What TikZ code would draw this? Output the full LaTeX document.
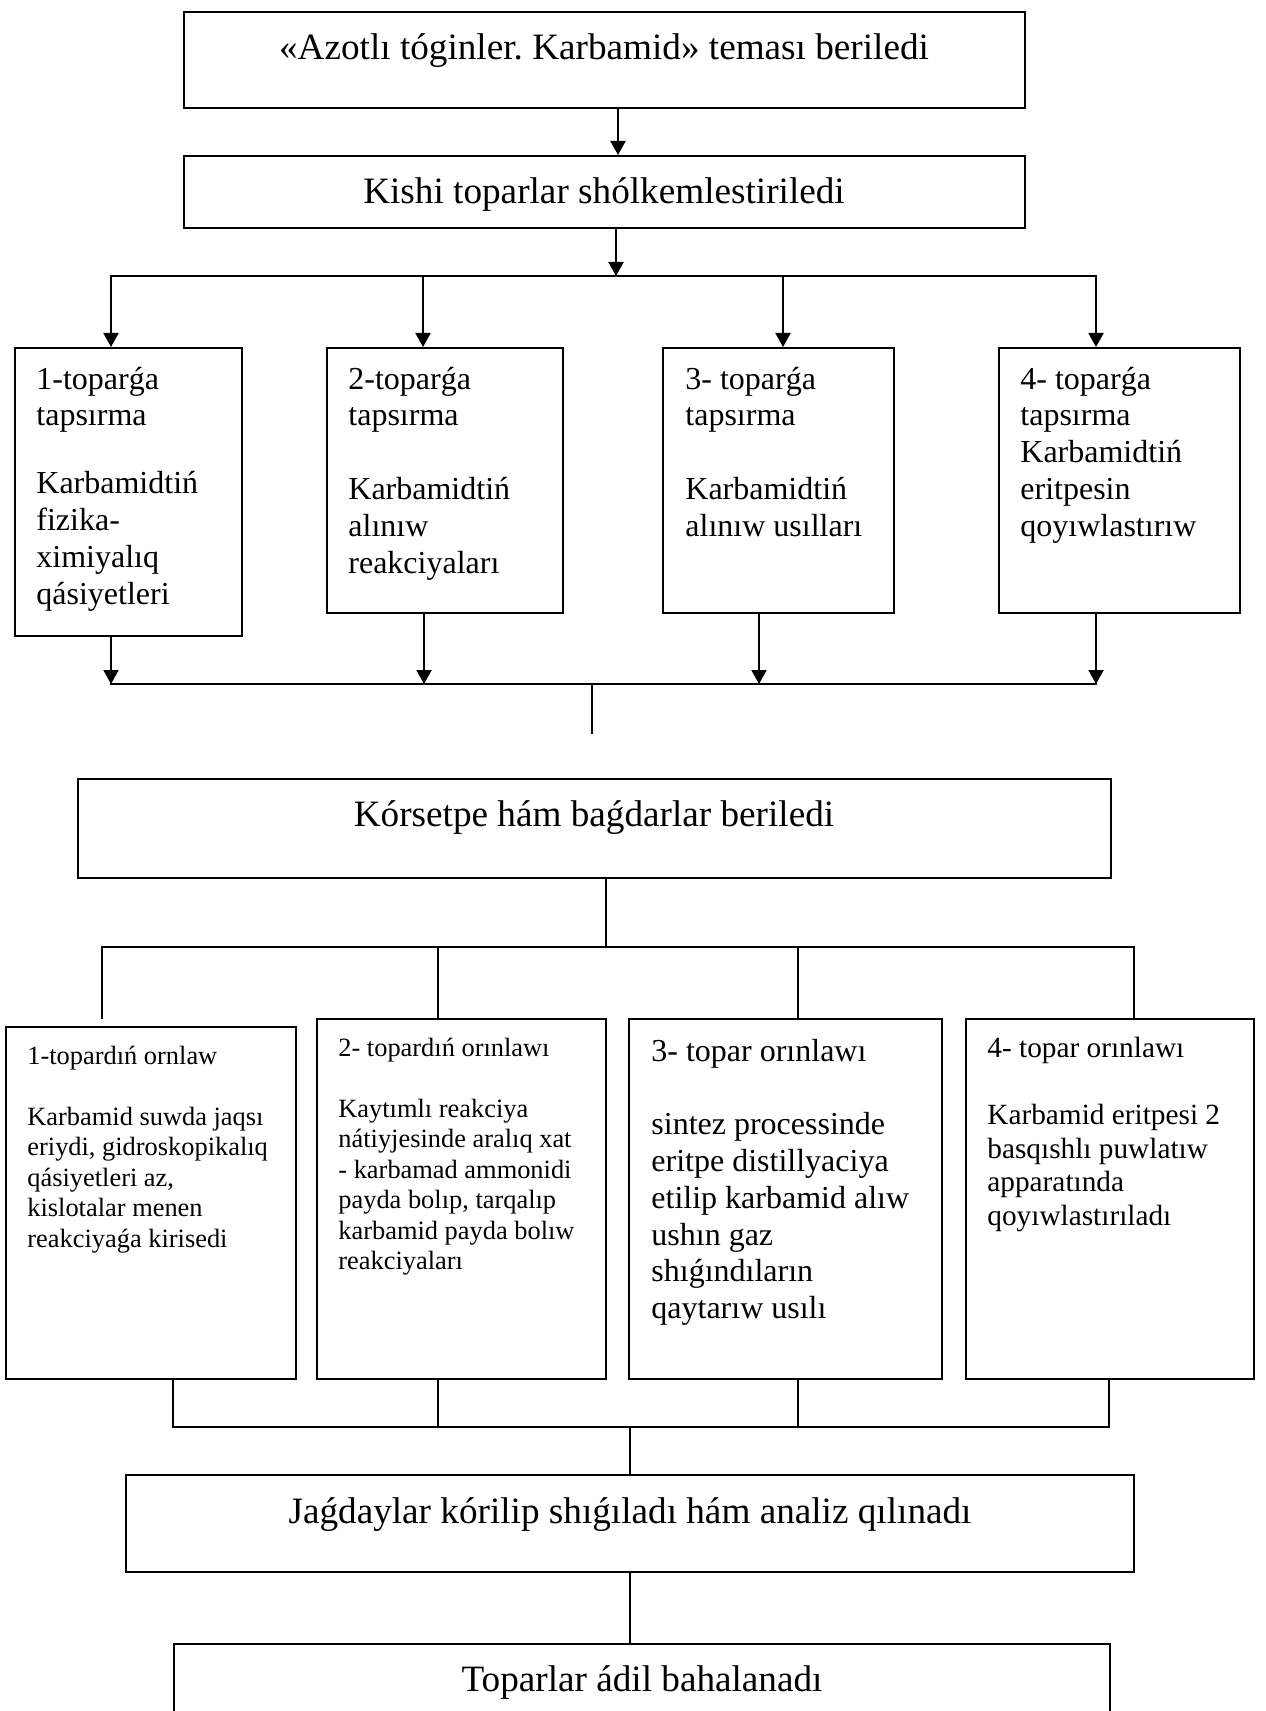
\documentclass[tikz,border=0pt]{standalone}
\usepackage{fontspec}
\setmainfont{Liberation Serif}
\usetikzlibrary{arrows.meta,fit}
\frenchspacing
\begin{document}
\begin{tikzpicture}[x=0.5pt,y=-0.5pt,
  box/.style={draw, line width=1pt, inner sep=0pt, rectangle},
  head/.style={font=\fontsize{18.6pt}{21pt}\selectfont, inner sep=0pt, anchor=base},
  txt/.style={align=left, inner sep=0pt, anchor=north west},
  task/.style={txt, font=\fontsize{16pt}{18.4pt}\selectfont},
  arr/.style={line width=1pt, -{Triangle[length=7pt,width=7.5pt]}},
  ln/.style={line width=1pt, line cap=rect},
  thin/.style={line width=0.75pt, line cap=rect}]

\fill[white] (0,0) rectangle (1265,1711);
\useasboundingbox (0,0) rectangle (1265,1711);
\clip (0,0) rectangle (1265,1711);

% ---------- boxes ----------
\node[box, fit={(184,12)(1025,108)}] (theme) {};
\node[box, fit={(184,156)(1025,228)}] (groups) {};
\node[box, fit={(15,348)(242,636)}] (task1) {};
\node[box, fit={(327,348)(563,613)}] (task2) {};
\node[box, fit={(663,348)(894,613)}] (task3) {};
\node[box, fit={(999,348)(1240,613)}] (task4) {};
\node[box, fit={(78,779)(1111,878)}] (hint) {};
\node[box, fit={(6,1027)(296,1379)}] (res1) {};
\node[box, fit={(317,1019)(606,1379)}] (res2) {};
\node[box, fit={(629,1019)(942,1379)}] (res3) {};
\node[box, fit={(966,1019)(1254,1379)}] (res4) {};
\node[box, fit={(126,1475)(1134,1572)}] (analysis) {};
\node[box, fit={(174,1644)(1110,1790)}] (grade) {};

% ---------- headings ----------
\node[head] (themeT) at (604,60) {«Azotlı tóginler. Karbamid» teması beriledi};
\node[head] (groupsT) at (604,204) {Kishi toparlar shólkemlestiriledi};
\node[head] (hintT) at (594,826) {Kórsetpe hám baǵdarlar beriledi};
\node[head] (analysisT) at (630,1523) {Jaǵdaylar kórilip shıǵıladı hám analiz qılınadı};
\node[head] (gradeT) at (642,1691) {Toparlar ádil bahalanadı};

% ---------- group tasks ----------
\node[task] (task1T) at (36,363) {\strut 1-toparǵa\\tapsırma\\[15.6pt]Karbamidtiń\\fizika-\\ximiyalıq\\qásiyetleri};
\node[task] (task2T) at (348,363) {\strut 2-toparǵa\\tapsırma\\[18.4pt]Karbamidtiń\\alınıw\\reakciyaları};
\node[task] (task3T) at (685,363) {\strut 3- toparǵa\\tapsırma\\[18.4pt]Karbamidtiń\\alınıw usılları};
\node[task] (task4T) at (1020,363) {\strut 4- toparǵa\\tapsırma\\Karbamidtiń\\eritpesin\\qoyıwlastırıw};

% ---------- group results ----------
\node[txt, font=\fontsize{13.2pt}{15.2pt}\selectfont] (res1T) at (27,1043)
  {\strut 1-topardıń ornlaw\\[15.2pt]Karbamid suwda jaqsı\\eriydi, gidroskopikalıq\\qásiyetleri az,\\kislotalar menen\\reakciyaǵa kirisedi};
\node[txt, font=\fontsize{13.2pt}{15.2pt}\selectfont] (res2T) at (338,1035)
  {\strut 2- topardıń orınlawı\\[15.2pt]Kaytımlı reakciya\\nátiyjesinde aralıq xat\\- karbamad ammonidi\\payda bolıp, tarqalıp\\karbamid payda bolıw\\reakciyaları};
\node[txt, font=\fontsize{16pt}{18.4pt}\selectfont] (res3T) at (651,1035)
  {\strut 3- topar orınlawı\\[18.4pt]sintez processinde\\eritpe distillyaciya\\etilip karbamid alıw\\ushın gaz\\shıǵındıların\\qaytarıw usılı};
\node[txt, font=\fontsize{14.65pt}{16.85pt}\selectfont] (res4T) at (987,1033)
  {\strut 4- topar orınlawı\\[16.85pt]Karbamid eritpesi 2\\basqıshlı puwlatıw\\apparatında\\qoyıwlastırıladı};

% ---------- connector points ----------
\coordinate (c0) at (618,0);
\coordinate (busA) at (616,276);
\coordinate (busA1) at (111,276);
\coordinate (busA2) at (423,276);
\coordinate (busA3) at (783,276);
\coordinate (busA4) at (1096,276);
\coordinate (busB1) at (111,684);
\coordinate (busB2) at (424,684);
\coordinate (busB3) at (759,684);
\coordinate (busB4) at (1096,684);
\coordinate (stubS) at (592,684);
\coordinate (stubE) at (592,733);
\coordinate (busC) at (606,947);
\coordinate (busC1) at (102,947);
\coordinate (busC2) at (438,947);
\coordinate (busC3) at (798,947);
\coordinate (busC4) at (1134,947);
\coordinate (dropC1) at (102,1018);
\coordinate (busD1) at (173,1427);
\coordinate (busD2) at (438,1427);
\coordinate (busD3) at (798,1427);
\coordinate (busD4) at (1109,1427);
\coordinate (busD) at (630,1427);

% ---------- connectors: upper part ----------
\draw[arr] (theme.south -| c0) -- (groups.north -| c0);
\draw[arr] (groups.south -| busA) -- (busA);
\draw[ln] (busA1) -- (busA4);
\draw[arr] (busA1) -- (task1.north -| busA1);
\draw[arr] (busA2) -- (task2.north -| busA2);
\draw[arr] (busA3) -- (task3.north -| busA3);
\draw[arr] (busA4) -- (task4.north -| busA4);

\draw[arr] (task1.south -| busB1) -- (busB1);
\draw[arr] (task2.south -| busB2) -- (busB2);
\draw[arr] (task3.south -| busB3) -- (busB3);
\draw[arr] (task4.south -| busB4) -- (busB4);
\draw[ln] (busB1) -- (busB4);
\draw[thin] (stubS) -- (stubE);

% ---------- connectors: lower part ----------
\draw[thin] (hint.south -| busC) -- (busC);
\draw[thin] (busC1) -- (busC4);
\draw[thin] (busC1) -- (dropC1);
\draw[thin] (busC2) -- (res2.north -| busC2);
\draw[thin] (busC3) -- (res3.north -| busC3);
\draw[thin] (busC4) -- (res4.north -| busC4);

\draw[thin] (res1.south -| busD1) -- (busD1);
\draw[thin] (res2.south -| busD2) -- (busD2);
\draw[thin] (res3.south -| busD3) -- (busD3);
\draw[thin] (res4.south -| busD4) -- (busD4);
\draw[thin] (busD1) -- (busD4);
\draw[thin] (busD) -- (analysis.north);
\draw[thin] (analysis.south) -- (grade.north -| analysis.south);
\end{tikzpicture}
\end{document}
